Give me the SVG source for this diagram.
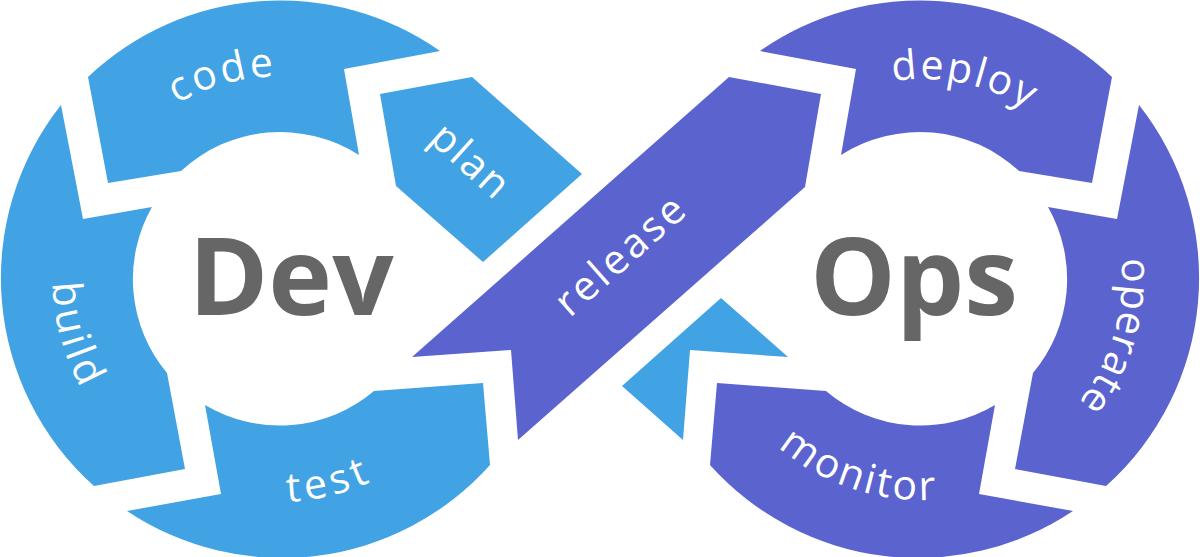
<svg xmlns="http://www.w3.org/2000/svg" width="1200" height="557" viewBox="0 0 1200 557">
<style>
.blue{fill:#41A2E4}
.purple{fill:#5B63CF}
.lbl{fill:#fff;font-family:"Open Sans","Liberation Sans",sans-serif;font-size:41px;font-weight:400}
.big{fill:#666666;font-family:"Open Sans","Liberation Sans",sans-serif;font-size:108px;font-weight:700}
</style>
<defs>
<path id="pCode" d="M 94.8 195.3 A 200 200 0 0 1 391.3 112.0"/>
<path id="pBuild" d="M 92.4 149.0 A 227 227 0 0 0 183.2 483.2"/>
<path id="pTest" d="M 144.1 457.6 A 224 224 0 0 0 478.1 378.6"/>
<path id="pDeploy" d="M 773.4 145.6 A 199 199 0 0 1 1110.9 215.5"/>
<path id="pOperate" d="M 1088.8 167.6 A 200 200 0 0 1 1001.7 461.4"/>
<path id="pMonitor" d="M 715.5 359.4 A 222 222 0 0 0 1038 467.3"/>
</defs>
<rect width="1200" height="557" fill="#ffffff"/>
<g id="code">
<path class="blue" d="M 88 77 L 108 183 L 181 171 A 146 146 0 0 1 359 155 L 344 69 L 440 51 A 279 279 0 0 0 88 77 Z"/>
<text class="lbl"><textPath href="#pCode" startOffset="50%" text-anchor="middle" textLength="102" lengthAdjust="spacing">code</textPath></text>
</g>
<g id="plan">
<path class="blue" d="M 380 94 L 472 77 L 582 174 L 483 262 L 396 186 Z"/>
<text class="lbl" transform="translate(461,170.7) rotate(42)" text-anchor="middle" textLength="90" lengthAdjust="spacing">plan</text>
</g>
<g id="build">
<path class="blue" d="M 61 105 L 83 219 L 152 207 A 146 146 0 0 0 167 373 L 185 469 L 94 486 A 279 279 0 0 1 61 105 Z"/>
<text class="lbl"><textPath href="#pBuild" startOffset="50%" text-anchor="middle" textLength="110" lengthAdjust="spacing">build</textPath></text>
</g>
<g id="test">
<path class="blue" d="M 127 511 L 221 494 L 205 405 A 146 146 0 0 0 374 391 L 483 383 L 490 465 A 279 279 0 0 1 127 511 Z"/>
<text class="lbl"><textPath href="#pTest" startOffset="50%" text-anchor="middle" textLength="86" lengthAdjust="spacing">test</textPath></text>
</g>
<g id="plan-tail">
<path class="blue" d="M 721 298 L 788 357 L 690 350 L 683 440 L 622 386 Z"/>
</g>
<g id="release">
<path class="purple" d="M 412 357 L 511 350 L 518 440 L 805 187 L 821 94 L 729 77 Z"/>
<text class="lbl" transform="translate(629,266) rotate(-41.5)" text-anchor="middle" textLength="158" lengthAdjust="spacing">release</text>
</g>
<g id="deploy">
<path class="purple" d="M 1112 77 L 1092 183 L 1019 171 A 146 146 0 0 0 841 155 L 856 69 L 760 51 A 279 279 0 0 1 1112 77 Z"/>
<text class="lbl"><textPath href="#pDeploy" startOffset="50%" text-anchor="middle" textLength="140" lengthAdjust="spacing">deploy</textPath></text>
</g>
<g id="operate">
<path class="purple" d="M 1139 105 L 1117 219 L 1048 207 A 146 146 0 0 1 1033 373 L 1015 469 L 1106 486 A 279 279 0 0 0 1139 105 Z"/>
<text class="lbl"><textPath href="#pOperate" startOffset="50%" text-anchor="middle" textLength="154" lengthAdjust="spacing">operate</textPath></text>
</g>
<g id="monitor">
<path class="purple" d="M 1073 511 L 979 494 L 995 405 A 146 146 0 0 1 826 391 L 717 383 L 710 465 A 279 279 0 0 0 1073 511 Z"/>
<text class="lbl"><textPath href="#pMonitor" startOffset="50%" text-anchor="middle" textLength="170" lengthAdjust="spacing">monitor</textPath></text>
</g>
<g id="dev">
<text class="big" x="291" y="315" text-anchor="middle">Dev</text>
</g>
<g id="ops">
<text class="big" x="914" y="315" text-anchor="middle">Ops</text>
</g>
</svg>
